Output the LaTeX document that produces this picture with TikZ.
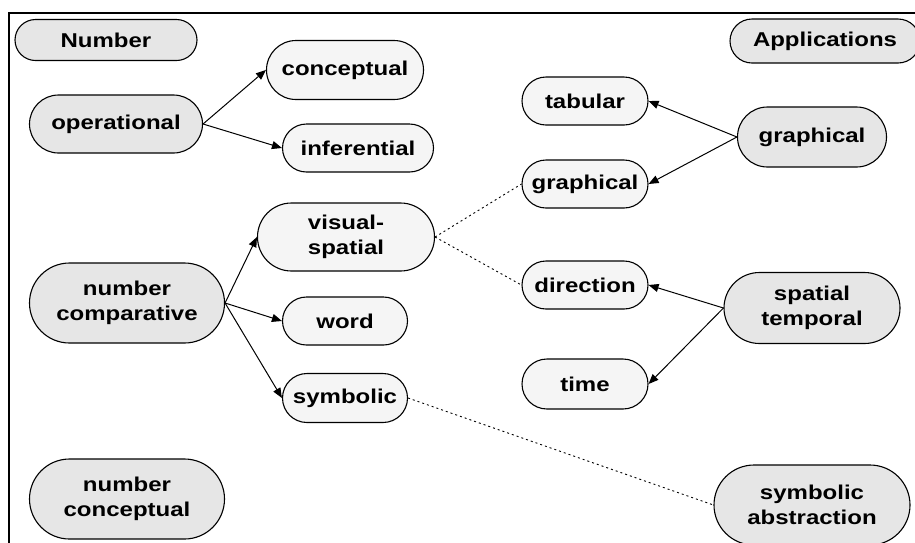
\documentclass[tikz,border=0pt]{standalone}
\usepackage{fontspec}
\setmainfont{Liberation Sans}[FakeStretch=1.2]
\usetikzlibrary{arrows.meta}
\definecolor{hubfill}{RGB}{230,230,230}
\definecolor{leaffill}{RGB}{245,245,245}

\begin{document}
\begin{tikzpicture}[x=1pt,y=-1pt]
\useasboundingbox (0,0) rectangle (915,542);
\clip (0,0) rectangle (915,542);
\draw[line width=2pt] (9,560) |- (940,13);
\draw[
    every node/.style={draw, align=center, inner sep=0pt,
        line width=1.1pt, font=\bfseries\fontsize{20}{25}\selectfont},
    pill/.style n args={2}{minimum width=#1, minimum height=#2,
        rounded corners=#2/2},
    hub/.style={fill=hubfill},
    leaf/.style={fill=leaffill},
    every edge/.append style={->},
    link/.style={-, line width=0.9pt, dash pattern=on 2pt off 3pt},
    >={Triangle[length=10pt,width=8pt]}, line width=1pt,
]
node[hub, pill={182pt}{41pt}] (num) at (106,40) {Number}
node[hub, pill={190pt}{44pt}] (app) at (825,41) {Applications}
node[hub, pill={173pt}{58pt}] (op) at (116,124) {operational}
node[leaf, pill={157pt}{59pt}] (con) at (345,70) {conceptual}
node[leaf, pill={151pt}{48pt}] (inf) at (358,148) {inferential}
node[hub, pill={195pt}{80pt}] (nc) at (127,303) {number\\comparative}
node[leaf, pill={177pt}{68pt}] (vs) at (346,237) {visual-\\spatial}
node[leaf, pill={125pt}{48pt}] (word) at (345,321) {word}
node[leaf, pill={125pt}{49pt}] (sym) at (345,398) {symbolic}
node[hub, pill={195pt}{80pt}] (ncon) at (127,499) {number\\conceptual}
node[leaf, pill={126pt}{48pt}] (tab) at (585,101) {tabular}
node[leaf, pill={126pt}{48pt}] (gl) at (585,184) {graphical}
node[hub, pill={149pt}{60pt}] (gr) at (812,137) {graphical}
node[leaf, pill={126pt}{48pt}] (dir) at (585,285) {direction}
node[leaf, pill={126pt}{50pt}] (time) at (585,384) {time}
node[hub, pill={176pt}{71pt}] (st) at (812,308) {spatial\\temporal}
node[hub, pill={196pt}{80pt}] (sa) at (812,505) {symbolic\\abstraction}
(op.east) edge (con.west)
          edge (inf.west)
(nc.east) edge (vs.west)
          edge (word.west)
          edge (sym.west)
(gr.west) edge (tab.east)
          edge (gl.east)
(st.west) edge (dir.east)
          edge (time.east)
(vs.east) edge[link] (gl.west)
          edge[link] (dir.west)
(sym.east) edge[link] (sa.west)
;
\end{tikzpicture}
\end{document}
